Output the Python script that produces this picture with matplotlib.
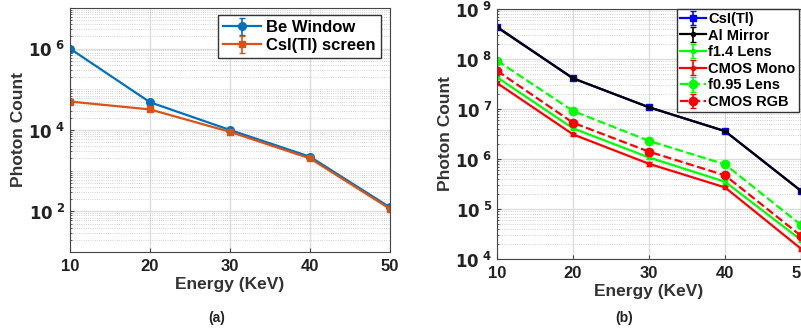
import numpy as np
import matplotlib.pyplot as plt
from matplotlib.ticker import FixedLocator, LogLocator, NullFormatter

plt.rcParams['font.family'] = ['Liberation Sans', 'DejaVu Sans']
plt.rcParams['font.weight'] = 'bold'
plt.rcParams['mathtext.default'] = 'bf'

# --- data ---
energy = [10, 20, 30, 40, 50]

be_window = [1.0e6, 4.8e4, 1.0e4, 2.2e3, 1.25e2]
csi_screen = [5.0e4, 3.2e4, 9.0e3, 2.0e3, 1.15e2]

csi_tl = [4.4e8, 4.1e7, 1.08e7, 3.6e6, 2.3e5]
al_mirror = [4.3e8, 4.1e7, 1.08e7, 3.6e6, 2.3e5]
f14_lens = [4.3e7, 4.1e6, 1.07e6, 3.5e5, 2.4e4]
cmos_mono = [3.3e7, 3.1e6, 8.0e5, 2.7e5, 1.6e4]
f095_lens = [9.3e7, 9.1e6, 2.3e6, 7.8e5, 4.8e4]
cmos_rgb = [5.8e7, 5.3e6, 1.4e6, 4.7e5, 2.9e4]

err_frac = 0.08  # small relative error bars

MBLUE = '#0072BD'
MORANGE = '#D95319'


def style_axes(ax, ylo, yhi, label_decs):
    ax.set_yscale('log')
    ax.set_xlim(10, 50)
    ax.set_ylim(10 ** ylo, 10 ** yhi)
    ax.set_xticks(energy)
    ax.set_xticklabels([str(e) for e in energy], fontsize=12, fontweight='bold', color='#222222')
    ax.yaxis.set_major_locator(FixedLocator([10.0 ** d for d in label_decs]))
    ax.yaxis.set_minor_locator(LogLocator(base=10, subs=np.arange(1, 10), numticks=50))
    ax.yaxis.set_minor_formatter(NullFormatter())
    ax.set_yticklabels([r'$\mathbf{10^{\ %d}}$' % d for d in label_decs], fontsize=12,
                       color='#222222')
    ax.grid(True, which='major', color='#dddddd', lw=1.0)
    ax.grid(True, which='minor', axis='y', color='#c4c4c4', lw=0.6, ls=':')
    ax.tick_params(which='both', direction='in', length=3, color='#444444')
    ax.tick_params(which='minor', length=1.5)
    ax.tick_params(axis='x', pad=5)
    for s in ax.spines.values():
        s.set_color('#444444')
        s.set_linewidth(0.8)
    ax.set_xlabel('Energy (KeV)', fontsize=12.5, fontweight='bold', color='#333333', labelpad=2)
    ax.set_ylabel('Photon Count', fontsize=12.5, fontweight='bold', color='#333333', labelpad=2)


def eb(ax, y, color, marker, ms, ls='-', label=None):
    y = np.array(y)
    return ax.errorbar(energy, y, yerr=y * err_frac, color=color, marker=marker, ms=ms,
                       ls=ls, lw=1.6, capsize=2, elinewidth=1.2, label=label)


fig = plt.figure(figsize=(8.01, 3.32), dpi=100)

# ---------- (a) ----------
ax1 = fig.add_axes([0.0874, 0.241, 0.3995, 0.735])
eb(ax1, be_window, MBLUE, 'o', 5.5, label='Be Window')
eb(ax1, csi_screen, MORANGE, 's', 5, label='CsI(Tl) screen')
style_axes(ax1, 1, 7, [2, 4, 6])
ax1.legend(loc='upper left', bbox_to_anchor=(218 / 801, 1 - 15 / 332),
           bbox_transform=fig.transFigure, frameon=True, fancybox=False, edgecolor='#333333',
           handlelength=2.3, borderpad=0.3, labelspacing=0.2, handletextpad=0.3,
           borderaxespad=0.0, prop={'weight': 'bold', 'size': 12}, framealpha=1)
fig.text(217 / 801, 1 - 318 / 332, '(a)', ha='center', va='center', fontsize=10,
         fontweight='bold', color='#222222')

# ---------- (b) ----------
ax2 = fig.add_axes([0.6205, 0.22, 0.3795, 0.753])
eb(ax2, csi_tl, '#0000ff', 's', 4, label='CsI(Tl)')
eb(ax2, al_mirror, '#000000', 'o', 3, label='Al Mirror')
eb(ax2, f14_lens, '#00ff00', 'o', 3, label='f1.4 Lens')
eb(ax2, cmos_mono, '#ff0000', 'o', 3, label='CMOS Mono')
eb(ax2, f095_lens, '#00ff00', 'o', 6, ls='--', label='f0.95 Lens')
eb(ax2, cmos_rgb, '#ff0000', 'o', 6, ls='--', label='CMOS RGB')
style_axes(ax2, 4, 9, [4, 5, 6, 7, 8, 9])
ax2.legend(loc='upper left', bbox_to_anchor=(677 / 801, 1 - 9 / 332),
           bbox_transform=fig.transFigure, frameon=True, fancybox=False, edgecolor='#333333',
           handlelength=1.8, borderpad=0.2, labelspacing=0.18, handletextpad=0.15,
           borderaxespad=0.0, prop={'weight': 'bold', 'size': 10.5}, framealpha=1)
fig.text(624 / 801, 1 - 318 / 332, '(b)', ha='center', va='center', fontsize=10,
         fontweight='bold', color='#222222')

fig.savefig('out.png', dpi=100)
